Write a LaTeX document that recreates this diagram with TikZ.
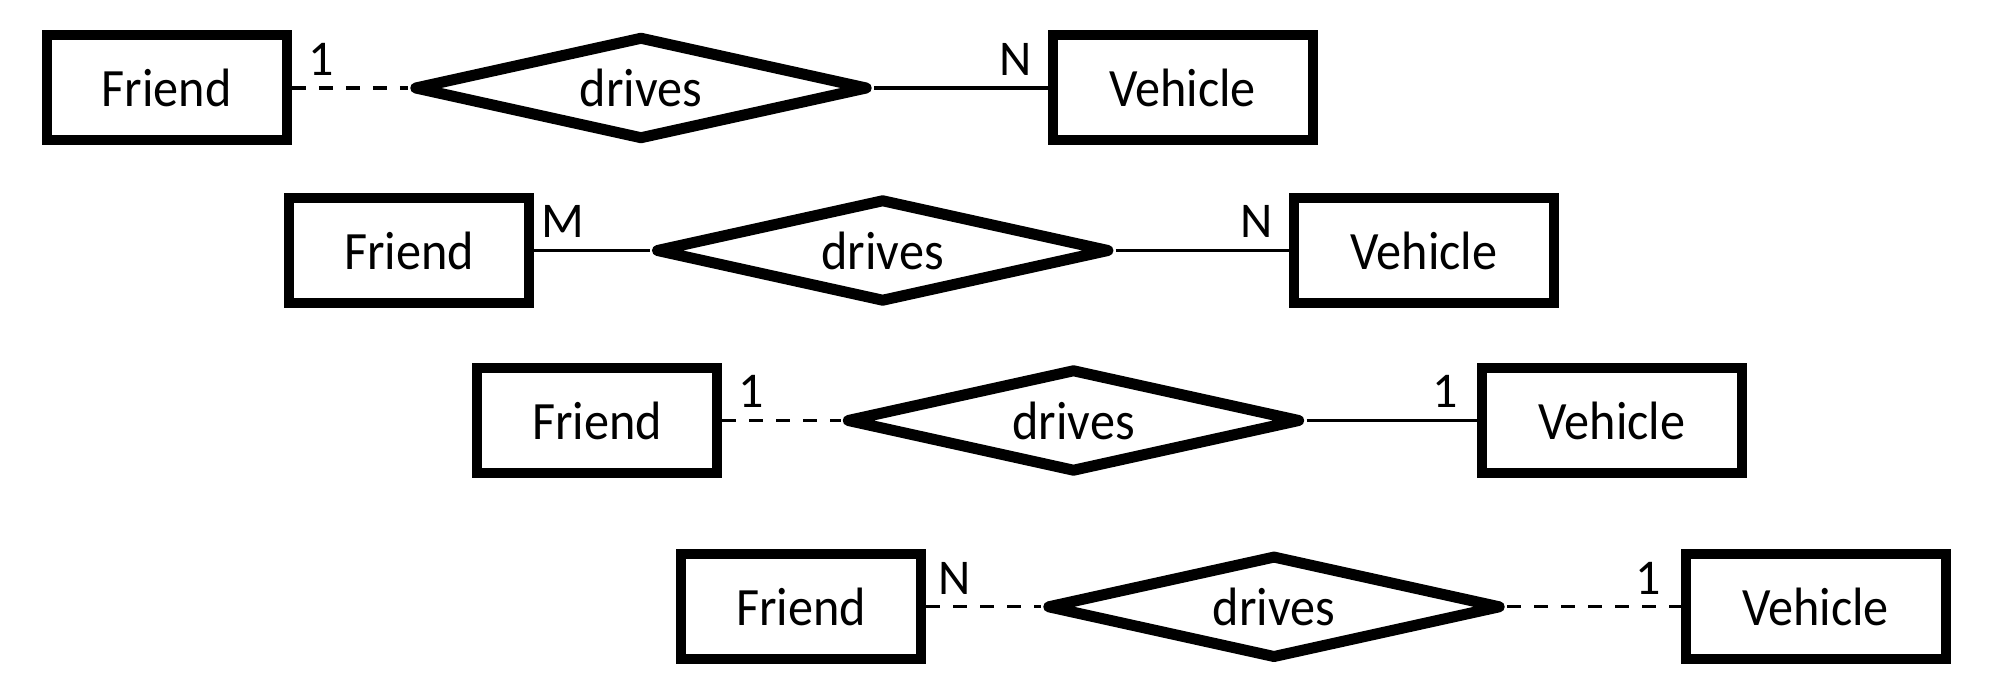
\documentclass[tikz,border=0pt]{standalone}
\usepackage{fontspec}
\setmainfont{Carlito}
\newfontfamily\boxfont{Carlito}[FakeStretch=0.93]
\usetikzlibrary{shapes.geometric,calc}
\tikzset{
  entity/.style={draw, line width=5pt, rectangle, inner sep=0pt, minimum height=52.5pt, font=\boxfont\fontsize{27pt}{31pt}\selectfont},
  friend/.style={entity, minimum width=120pt},
  vehicle/.style={entity, minimum width=130pt},
  rel/.style={draw, line width=5.5pt, line join=round, diamond, aspect=4, inner sep=0pt, minimum width=227.5pt, minimum height=52pt, font=\boxfont\fontsize{27pt}{31pt}\selectfont},
  conn/.style={line width=1.6pt},
  dconn/.style={conn, dash pattern=on 7pt off 6.5pt},
  card/.style={inner sep=0pt, anchor=base, font=\fontsize{25pt}{29pt}\selectfont}
}
\begin{document}
\begin{tikzpicture}[x=0.5pt, y=-0.5pt]
\useasboundingbox (0,0) rectangle (2000,694);
% row 1
\node[friend]  (f1) at (166.8,88) {Friend};
\node[rel]     (d1) at (641,88) {drives};
\node[vehicle] (v1) at (1182.5,88) {Vehicle};
\draw[dconn] (f1) -- (d1);
\draw[conn] (d1) -- (v1);
\node[card] (c1a) at ($(f1.east)+(29,-12.5)$) {1};
\node[card] (c1b) at ($(v1.west)+(-32,-12.5)$) {N};
% row 2
\node[friend]  (f2) at (409,250.5) {Friend};
\node[rel]     (d2) at (882.7,250.5) {drives};
\node[vehicle] (v2) at (1424,250.5) {Vehicle};
\draw[conn] (f2) -- (d2);
\draw[conn] (d2) -- (v2);
\node[card] (c2a) at ($(f2.east)+(29,-12.5)$) {M};
\node[card] (c2b) at ($(v2.west)+(-32,-12.5)$) {N};
% row 3
\node[friend]  (f3) at (597.3,420.5) {Friend};
\node[rel]     (d3) at (1073.5,420.5) {drives};
\node[vehicle] (v3) at (1612,420.5) {Vehicle};
\draw[dconn] (f3) -- (d3);
\draw[conn] (d3) -- (v3);
\node[card] (c3a) at ($(f3.east)+(29,-12.5)$) {1};
\node[card] (c3b) at ($(v3.west)+(-32,-12.5)$) {1};
% row 4
\node[friend]  (f4) at (801,606.8) {Friend};
\node[rel]     (d4) at (1274,606.8) {drives};
\node[vehicle] (v4) at (1815.5,606.8) {Vehicle};
\draw[dconn] (f4) -- (d4);
\draw[dconn] (d4) -- (v4);
\node[card] (c4a) at ($(f4.east)+(29,-12.5)$) {N};
\node[card] (c4b) at ($(v4.west)+(-32,-12.5)$) {1};
\end{tikzpicture}
\end{document}
